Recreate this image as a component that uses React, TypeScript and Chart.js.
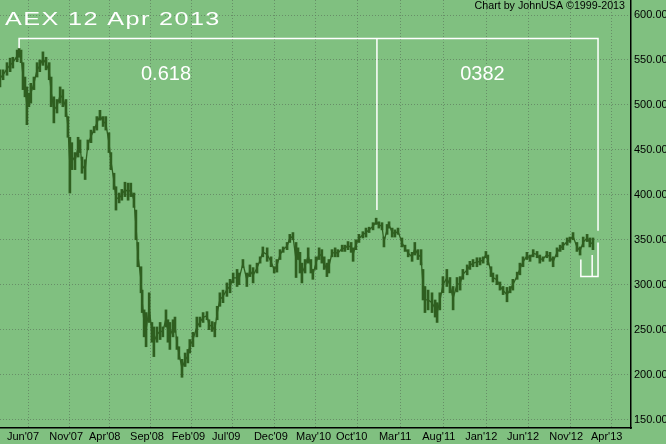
import { useEffect, useRef } from 'react';
import { Chart, registerables } from 'chart.js';

Chart.register(...registerables);

// x = trading session counted from 1 Jun 2007, values = AEX index points
const sessions = [
  -18, -10, 0, 8, 15, 26, 31, 36, 41, 46, 51, 56, 61, 69, 77, 84, 92, 100, 108, 113,
  120, 128, 136, 143, 151, 156, 161, 166, 174, 182, 187, 192, 200, 207, 215, 223, 230, 238, 246, 253,
  261, 266, 274, 279, 287, 294, 302, 310, 317, 325, 330, 335, 343, 346, 351, 356, 364, 371, 376, 384,
  392, 399, 407, 412, 417, 425, 430, 435, 440, 448, 456, 463, 468, 476, 486, 494, 502, 512, 517, 525,
  532, 538, 545, 553, 563, 571, 579, 589, 594, 604, 614, 622, 630, 640, 648, 655, 666, 676, 684, 691,
  699, 707, 717, 724, 732, 740, 745, 750, 755, 763, 771, 778, 783, 791, 799, 806, 812, 819, 824, 832,
  840, 847, 858, 865, 873, 881, 886, 893, 901, 911, 919, 927, 937, 945, 952, 960, 965, 973, 978, 986,
  993, 1001, 1011, 1019, 1027, 1037, 1044, 1052, 1060, 1065, 1070, 1078, 1088, 1096, 1101, 1108, 1116, 1126, 1134, 1142,
  1152, 1160, 1167, 1178, 1185, 1193, 1203, 1211, 1219, 1226, 1231, 1239, 1244, 1254, 1262, 1270, 1280, 1288, 1295, 1306,
  1313, 1321, 1331, 1339, 1347, 1357, 1364, 1372, 1382, 1390, 1398, 1408, 1416, 1423, 1434, 1441, 1449, 1459, 1467, 1475,
  1485, 1492, 1500,
];

const lows = [
  520, 528, 533, 537, 541, 548, 553, 547, 517, 509, 478, 498, 502, 517, 531, 537, 544, 539, 528, 498,
  480, 491, 502, 498, 487, 464, 402, 428, 428, 442, 447, 424, 417, 450, 458, 469, 472, 483, 476, 472,
  447, 428, 406, 383, 391, 394, 398, 394, 398, 386, 350, 320, 291, 269, 242, 231, 258, 236, 220, 236,
  239, 242, 253, 236, 228, 242, 247, 228, 217, 197, 209, 213, 224, 231, 242, 253, 258, 261, 250, 248,
  242, 261, 276, 280, 287, 291, 302, 298, 300, 319, 298, 309, 302, 313, 324, 331, 326, 320, 313, 314,
  328, 336, 339, 347, 350, 308, 328, 313, 302, 313, 324, 313, 306, 317, 328, 324, 317, 309, 313, 331,
  331, 331, 337, 337, 339, 336, 326, 339, 347, 352, 353, 358, 361, 367, 363, 361, 342, 356, 363, 353,
  353, 356, 342, 337, 331, 326, 333, 328, 322, 283, 269, 272, 269, 264, 258, 272, 291, 298, 291, 272,
  292, 294, 306, 311, 317, 320, 320, 322, 324, 330, 322, 309, 303, 300, 294, 289, 281, 291, 294, 306,
  311, 320, 328, 326, 331, 330, 324, 326, 330, 326, 320, 331, 337, 339, 344, 347, 350, 337, 333, 342,
  348, 342, 339,
];

const highs = [
  539, 539, 547, 552, 553, 561, 563, 561, 547, 531, 520, 513, 524, 531, 547, 550, 559, 553, 547, 531,
  509, 506, 520, 517, 506, 487, 464, 458, 447, 464, 461, 442, 439, 461, 472, 476, 487, 494, 487, 487,
  469, 447, 424, 409, 402, 406, 414, 413, 413, 402, 383, 347, 320, 294, 272, 269, 291, 258, 253, 253,
  258, 253, 272, 261, 258, 261, 264, 242, 231, 217, 224, 228, 239, 247, 264, 264, 269, 270, 261, 259,
  258, 276, 291, 294, 302, 306, 313, 317, 313, 328, 313, 322, 319, 324, 331, 342, 341, 331, 320, 328,
  339, 342, 347, 356, 358, 347, 341, 336, 324, 328, 341, 328, 317, 331, 341, 339, 331, 324, 328, 339,
  341, 339, 344, 344, 348, 347, 341, 350, 356, 359, 363, 364, 369, 374, 370, 369, 353, 367, 370, 363,
  361, 363, 352, 344, 339, 336, 347, 339, 339, 317, 298, 294, 291, 283, 280, 291, 309, 317, 308, 298,
  308, 309, 317, 322, 326, 328, 330, 330, 331, 337, 333, 320, 313, 311, 303, 298, 297, 298, 306, 314,
  324, 331, 336, 333, 339, 337, 333, 331, 337, 336, 331, 341, 344, 347, 352, 353, 358, 347, 342, 353,
  356, 352, 352,
];

const monthTicks = [0, 108, 210, 315, 422, 525, 632, 740, 842, 952, 1063, 1173, 1280, 1388, 1495];
const monthLabels = [
  "Jun'07", "Nov'07", "Apr'08", "Sep'08", "Feb'09", "Jul'09", "Dec'09", "May'10",
  "Oct'10", "Mar'11", "Aug'11", "Jan'12", "Jun'12", "Nov'12", "Apr'13",
];
const priceTicks = [150, 200, 250, 300, 350, 400, 450, 500, 550, 600];

// hand drawn retracement sketch (session, index points)
const fibPaths = [
  [[31, 563], [31, 574], [1513, 574], [1513, 360]],
  [[947, 574], [947, 383]],
  [[1513, 347], [1513, 309], [1469, 309], [1469, 328]],
  [[1498, 309], [1498, 333]],
];
const fibLabels = [
  { text: '0.618', x: 343, y: 528 },
  { text: '0382', x: 1160, y: 528 },
];

const BG = '#80c080';
const INK = '#2f5f20';
const GRID = 'rgba(95,125,95,0.75)';
const FONT = '"Liberation Sans", Arial, sans-serif';

const decor = {
  id: 'decor',
  beforeDraw(chart: any) {
    const { ctx, width, height } = chart;
    ctx.save();
    ctx.fillStyle = BG;
    ctx.fillRect(0, 0, width, height);
    ctx.restore();
  },
  afterDraw(chart: any) {
    const { ctx } = chart;
    const { x, y } = chart.scales;
    ctx.save();
    ctx.fillStyle = '#000';
    ctx.font = '10.7px ' + FONT;
    ctx.textAlign = 'right';
    ctx.textBaseline = 'middle';
    ctx.fillText('Chart by JohnUSA ©1999-2013', 625, 6.5);

    ctx.fillStyle = '#fff';
    ctx.textAlign = 'left';
    ctx.textBaseline = 'alphabetic';
    ctx.save();
    ctx.translate(5, 25);
    ctx.scale(1.4, 1);
    ctx.font = '18px ' + FONT;
    (ctx as any).letterSpacing = '1px';
    ctx.fillText('AEX 12 Apr 2013', 0, 0);
    ctx.restore();

    ctx.font = '20px ' + FONT;
    fibLabels.forEach((l) => {
      ctx.fillText(l.text, x.getPixelForValue(l.x), y.getPixelForValue(l.y));
    });
    ctx.restore();
  },
};

export default function App() {
  const chartRef = useRef<HTMLCanvasElement>(null);
  const chartInstance = useRef<Chart | null>(null);

  useEffect(() => {
    document.body.style.margin = '0';
    if (!chartRef.current) return;
    const ctx = chartRef.current.getContext('2d');
    if (!ctx) return;
    if (chartInstance.current) chartInstance.current.destroy();

    const fibPoints: any[] = [];
    fibPaths.forEach((path) => {
      path.forEach(([px, py]) => fibPoints.push({ x: px, y: py }));
      fibPoints.push({ x: path[path.length - 1][0], y: null });
    });

    chartInstance.current = new Chart(ctx, {
      type: 'bar',
      data: {
        datasets: [
          {
            type: 'bar',
            label: 'AEX range',
            data: sessions.map((s, i) => ({ x: s, y: [lows[i], highs[i]] })) as any,
            backgroundColor: INK,
            borderWidth: 0,
            barThickness: 2,
            order: 2,
          },
          {
            type: 'line',
            label: 'AEX',
            data: sessions.map((s, i) => ({ x: s, y: (lows[i] + highs[i]) / 2 })) as any,
            borderColor: INK,
            borderWidth: 1.3,
            pointRadius: 0,
            tension: 0,
            order: 1,
          },
          {
            type: 'line',
            label: 'fib',
            data: fibPoints,
            borderColor: '#ffffff',
            borderWidth: 1.5,
            pointRadius: 0,
            spanGaps: false,
            order: 0,
          },
        ],
      } as any,
      options: {
        responsive: false,
        animation: false,
        events: [],
        layout: { padding: 0 },
        plugins: {
          legend: { display: false },
          tooltip: { enabled: false },
        },
        scales: {
          x: {
            type: 'linear',
            min: -17.9,
            max: 1597.4,
            offset: false,
            afterBuildTicks: (s: any) => {
              s.ticks = monthTicks.map((v) => ({ value: v }));
            },
            afterFit: (s: any) => {
              s.height = 16;
              s.paddingLeft = 0;
              s.paddingRight = 0;
            },
            grid: { color: GRID, lineWidth: 1, drawTicks: false },
            border: { color: '#000', width: 1.5, dash: [1, 2] },
            ticks: {
              autoSkip: false,
              maxRotation: 0,
              align: 'start',
              padding: 2,
              color: '#000',
              font: { family: FONT, size: 11 },
              callback: (_v: any, i: number) => monthLabels[i],
            },
          },
          y: {
            position: 'right',
            min: 140.6,
            max: 616.7,
            afterBuildTicks: (s: any) => {
              s.ticks = priceTicks.map((v) => ({ value: v }));
            },
            afterFit: (s: any) => {
              s.width = 35;
              s.paddingTop = 0;
              s.paddingBottom = 0;
            },
            grid: { color: GRID, lineWidth: 1, drawTicks: false },
            border: { color: '#000', width: 1.5, dash: [1, 2] },
            ticks: {
              padding: 3,
              color: '#000',
              font: { family: FONT, size: 11 },
              callback: (v: any) => Number(v).toFixed(2),
            },
          },
        },
      } as any,
      plugins: [decor],
    });

    return () => {
      if (chartInstance.current) {
        chartInstance.current.destroy();
        chartInstance.current = null;
      }
    };
  }, []);

  return <canvas ref={chartRef} width={666} height={444} style={{ display: 'block' }} />;
}
